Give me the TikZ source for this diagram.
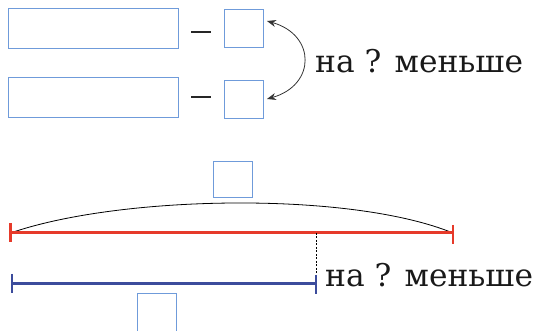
\documentclass[tikz,border=0pt]{standalone}
\usepackage{fontspec}
\setmainfont{DejaVu Serif}
\usetikzlibrary{arrows.meta}
\definecolor{boxblue}{HTML}{6F9BDA}
\definecolor{segred}{HTML}{E63A2A}
\definecolor{segblue}{HTML}{3C4C9C}
\tikzset{
  blank/.style={draw=boxblue, line width=0.9pt, inner sep=0pt, outer sep=0pt},
  bigbox/.style={blank, minimum width=170pt, minimum height=40pt},
  smallbox/.style={blank, minimum width=39pt, minimum height=38pt},
  minus/.style={line width=1.6pt, black!85},
  lbl/.style={inner sep=0pt, anchor=base west, font=\fontsize{31.3}{31.3}\selectfont, text=black!90},
  redseg/.style={segred, line width=3pt},
  blueseg/.style={segblue, line width=3pt},
}
\begin{document}
\begin{tikzpicture}[x=1pt,y=-1pt]
\useasboundingbox (0,0) rectangle (544,331);
% top expression rows
\node[bigbox] (b1) at (93,28) {};
\node[smallbox] (s1) at (243.5,28.5) {};
\node[bigbox] (b2) at (93,97) {};
\node[smallbox] (s2) at (243.5,99) {};
\coordinate (m1a) at (191,32); \coordinate (m1b) at (211,32);
\coordinate (m2a) at (191,97); \coordinate (m2b) at (211,97);
\draw[minus] (m1a) -- (m1b);
\draw[minus] (m2a) -- (m2b);
\coordinate (a1) at (267,21);
\coordinate (a2) at (267,99);
\draw[black!80, line width=0.8pt, {Stealth[length=9pt,width=7pt]}-{Stealth[length=9pt,width=7pt]}]
  (a1) .. controls (316,35) and (316,85) .. (a2);
\node[lbl] (t1) at (315,73) {на ? меньше};
% bottom segments
\node[smallbox, minimum height=36pt] (q1) at (232.5,179.5) {};
\coordinate (rL) at (10.5,233);
\coordinate (rR) at (453,233);
\draw[black, line width=0.8pt] (rL) .. controls (120,195) and (350,191) .. (rR);
\draw[redseg] (rL) -- (rR);
\draw[segred, line width=2.6pt] (10.5,223) -- (10.5,242);
\draw[segred, line width=2.6pt] (453,225) -- (453,244);
\coordinate (bL) at (12,284);
\coordinate (bR) at (316,284);
\draw[black, line width=0.6pt, dash pattern=on 2pt off 1.5pt] (316,233) -- (bR);
\draw[blueseg] (bL) -- (bR);
\draw[segblue, line width=2.6pt] (12,274) -- (12,293);
\draw[segblue, line width=2.6pt] (316,275) -- (316,294);
\node[lbl] (t2) at (325,287) {на ? меньше};
\node[smallbox, minimum height=38pt] (q2) at (156.5,312) {};
\end{tikzpicture}
\end{document}
